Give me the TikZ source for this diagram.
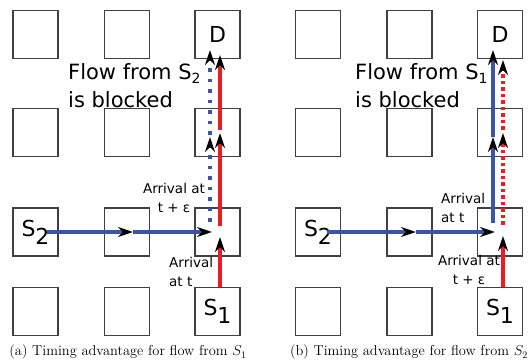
\documentclass[tikz,border=0pt]{standalone}
\usepackage{fontspec}
\newfontfamily\dejavu{DejaVu Sans}
\usetikzlibrary{arrows.meta,calc}
\definecolor{flowblue}{RGB}{59,84,164}
\definecolor{flowred}{RGB}{237,28,36}
\newcommand{\lowidx}[1]{\raisebox{-8pt}{#1}}
\newcommand{\subidx}[1]{\raisebox{-4pt}{\fontsize{14}{14}\selectfont #1}}
\tikzset{
  router/.style={draw=black!75,line width=1.2pt,minimum width=45pt,minimum height=48pt,inner sep=0pt},
  boxlabel/.style={font=\dejavu\fontsize{22}{22}\selectfont,inner sep=0pt},
  hop/.style={line width=3.5pt,-{Stealth[black,length=15pt,width=10pt,inset=5pt]}},
  blueflow/.style={hop,draw=flowblue},
  redflow/.style={hop,draw=flowred},
  blueblocked/.style={blueflow,dash pattern=on 3.5pt off 7pt},
  redblocked/.style={redflow,dash pattern=on 3.5pt off 3pt},
  note/.style={font=\dejavu\fontsize{21}{28}\selectfont,align=left,inner sep=0pt},
  arrival/.style={font=\dejavu\fontsize{13.5}{19}\selectfont,inner sep=0pt},
  caption/.style={font=\fontsize{14.4}{17}\selectfont,inner sep=0pt,anchor=base}
}
\begin{document}
\begin{tikzpicture}[x=1pt,y=-1pt]
  \useasboundingbox (0,0) rectangle (528,363);
  %% grid of routers, panel a and panel b
  \foreach \p/\x in {a/0,b/282.5}{
    \foreach \r/\y in {1/34.5,2/132.5,3/232,4/311.5}{
      \foreach \c/\cx in {1/35.5,2/127,3/217.5}{
        \node[router] (\p-\r-\c) at (\x+\cx,\y) {};
      }
    }
  }
  \node[boxlabel] (destA) at (a-1-3) {D};
  \node[boxlabel] (srcTwoA) at (a-3-1) {S\lowidx{2}};
  \node[boxlabel] (srcOneA) at (a-4-3) {S\lowidx{1}};
  \node[boxlabel] (destB) at (b-1-3) {D};
  \node[boxlabel] (srcTwoB) at (b-3-1) {S\lowidx{2}};
  \node[boxlabel] (srcOneB) at (b-4-3) {S\lowidx{1}};
  %% (a) flow from S1 wins
  \draw[redflow] ($(a-4-3.north)+(2.5,0)$) -- ($(a-3-3.center)+(2.5,5)$);
  \draw[redflow] ($(a-3-3.center)+(2.5,-6)$) -- ($(a-2-3.center)+(2.5,0.5)$);
  \draw[redflow] ($(a-2-3.center)+(2.5,-2.5)$) -- ($(a-1-3.center)+(2.5,20.5)$);
  \draw[blueblocked] ($(a-3-3.center)+(-7.5,-10)$) -- ($(a-2-3.center)+(-7.5,4.5)$);
  \draw[blueblocked] ($(a-2-3.center)+(-7.5,2.5)$) -- ($(a-1-3.center)+(-7.5,15.5)$);
  \draw[blueflow] ($(a-3-1.center)+(11.5,0)$) -- ($(a-3-2.center)+(6,0)$);
  \draw[blueflow] ($(a-3-2.center)+(6,0)$) -- ($(a-3-3.center)+(-5.5,0)$);
  %% (b) flow from S2 wins
  \draw[redflow] ($(b-4-3.north)+(3,0)$) -- ($(b-3-3.center)+(3,4)$);
  \draw[redblocked] ($(b-3-3.center)+(3,-7)$) -- ($(b-2-3.center)+(3,0.5)$);
  \draw[redblocked] ($(b-2-3.center)+(3,-2.5)$) -- ($(b-1-3.center)+(3,25.5)$);
  \draw[blueflow] ($(b-3-3.center)+(-7,-9)$) -- ($(b-2-3.center)+(-7,4.5)$);
  \draw[blueflow] ($(b-2-3.center)+(-7,4.5)$) -- ($(b-1-3.center)+(-7,15.5)$);
  \draw[blueflow] ($(b-3-1.center)+(9,0)$) -- ($(b-3-2.center)+(6.5,0)$);
  \draw[blueflow] ($(b-3-2.center)+(6.5,0)$) -- ($(b-3-3.center)+(-5,0)$);
  %% texts
  \node[note,anchor=north west] (blockA) at (68,63) {Flow from S\subidx{2}\\is blocked};
  \node[note,anchor=north west] (blockB) at (355,63) {Flow from S\subidx{1}\\is blocked};
  \node[arrival,align=center,anchor=north] (lateA) at (174,183) {Arrival at\\t + ε};
  \node[arrival,align=left,anchor=north west] (earlyA) at (169,257) {Arrival\\at t};
  \node[arrival,align=left,anchor=north west] (earlyB) at (441,193) {Arrival\\at t};
  \node[arrival,align=center,anchor=north] (lateB) at (469,255) {Arrival at\\t + ε};
  \node[caption] (capA) at (128,356) {(a) Timing advantage for flow from $S_1$};
  \node[caption] (capB) at (409,356) {(b) Timing advantage for flow from $S_2$};
\end{tikzpicture}
\end{document}
